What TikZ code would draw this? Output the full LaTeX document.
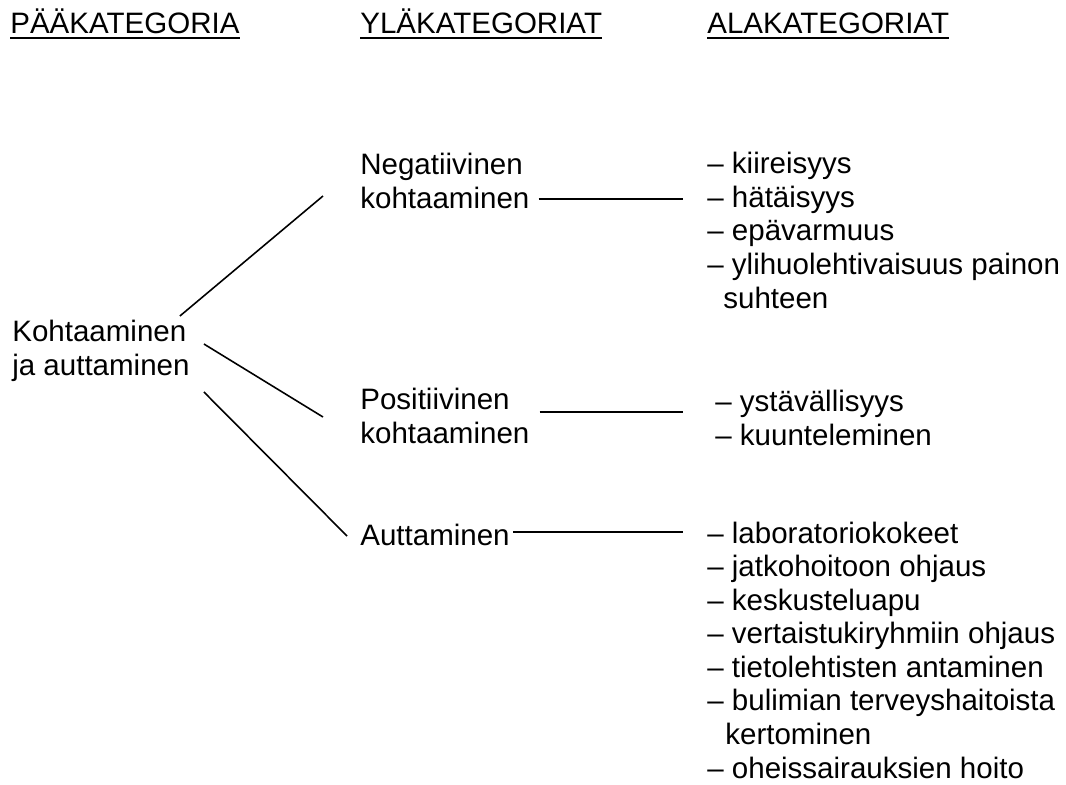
\documentclass[tikz,border=0pt]{standalone}
\usepackage{fontspec}
\setmainfont{Liberation Sans}
\usetikzlibrary{calc}

\begin{document}
\begin{tikzpicture}[x=0.02cm, y=-0.02cm,
        lbl/.style={inner sep=0pt, anchor=base west, align=left,
            font=\fontsize{16.8}{19.07}\selectfont},
        link/.style={line width=0.9pt},
        uline/.style={line width=1.2pt}]
        \useasboundingbox (0,0) rectangle (1066,785);

        % otsikot
        \node[lbl] (hdA) at (10,33) {PÄÄKATEGORIA};
        \node[lbl] (hdB) at (360,33) {YLÄKATEGORIAT};
        \node[lbl] (hdC) at (707,33) {ALAKATEGORIAT};
        \draw[uline] ($(hdA.base west)+(0,5)$) -- ($(hdA.base east)+(0,5)$);
        \draw[uline] ($(hdB.base west)+(0,5)$) -- ($(hdB.base east)+(0,5)$);
        \draw[uline] ($(hdC.base west)+(0,5)$) -- ($(hdC.base east)+(0,5)$);

        % kategoriat (base = viimeisen rivin perusviiva)
        \node[lbl] (main) at (12,375) {Kohtaaminen\\ja auttaminen};

        \node[lbl] (neg) at (360,208) {Negatiivinen\\kohtaaminen};
        \node[lbl] (pos) at (360,443) {Positiivinen\\kohtaaminen};
        \node[lbl] (aut) at (360,545) {Auttaminen};

        \node[lbl] (negsub) at (707,308) {– kiireisyys\\– hätäisyys\\– epävarmuus\\
            – ylihuolehtivaisuus painon\\\hspace*{0.32cm}suhteen};
        \node[lbl] (possub) at (715,445) {– ystävällisyys\\– kuunteleminen};
        \node[lbl] (autsub) at (707,778) {– laboratoriokokeet\\– jatkohoitoon ohjaus\\
            – keskusteluapu\\– vertaistukiryhmiin ohjaus\\– tietolehtisten antaminen\\
            – bulimian terveyshaitoista\\\hspace*{0.36cm}kertominen\\
            – oheissairauksien hoito};

        % viivat
        \draw[link] ($(main.base east)+(-10,-59)$) -- ($(neg.base west)+(-37,-12)$);
        \draw[link] ($(main.base east)+(14,-31)$) -- ($(pos.base west)+(-37,-26)$);
        \draw[link] ($(main.base east)+(14,17)$) -- ($(aut.base west)+(-13,-9)$);

        \draw[link] ($(neg.base east)+(9,-9)$) -- ($(negsub.base west)+(-24,-109)$);
        \draw[link] ($(pos.base east)+(10,-31)$) -- ($(possub.base west)+(-32,-33)$);
        \draw[link] ($(aut.base east)+(3,-13)$) -- ($(autsub.base west)+(-24,-246)$);
    \end{tikzpicture}
\end{document}
